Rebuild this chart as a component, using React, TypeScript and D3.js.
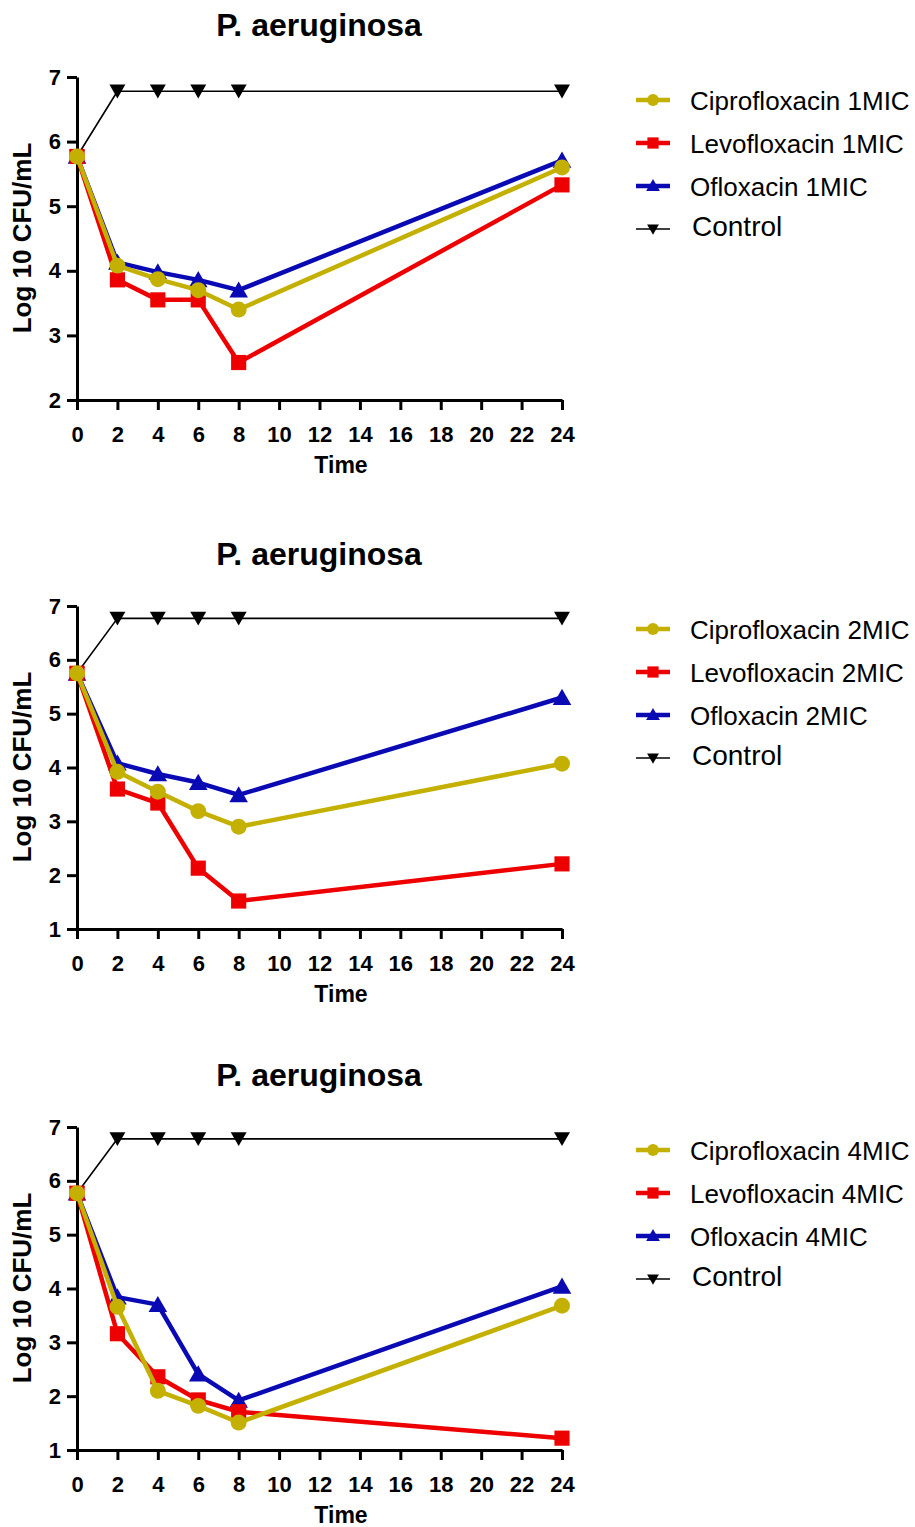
import React, { useEffect, useRef } from 'react';
import * as d3 from 'd3';

// sampling times (h)
const times = [0, 2, 4, 6, 8, 24];
const xTickValues = [0, 2, 4, 6, 8, 10, 12, 14, 16, 18, 20, 22, 24];

// panel 1 : 1MIC
const yTicks1 = [2, 3, 4, 5, 6, 7];
const cipro1 = [5.77, 4.08, 3.87, 3.7, 3.4, 5.6];
const levo1 = [5.77, 3.86, 3.55, 3.55, 2.58, 5.33];
const oflo1 = [5.77, 4.13, 3.98, 3.86, 3.7, 5.71];
const control1 = [5.77, 6.78, 6.78, 6.78, 6.78, 6.78];

// panel 2 : 2MIC
const yTicks2 = [1, 2, 3, 4, 5, 6, 7];
const cipro2 = [5.75, 3.92, 3.55, 3.19, 2.9, 4.07];
const levo2 = [5.75, 3.6, 3.34, 2.13, 1.52, 2.21];
const oflo2 = [5.75, 4.08, 3.88, 3.72, 3.49, 5.3];
const control2 = [5.75, 6.77, 6.77, 6.77, 6.77, 6.77];

// panel 3 : 4MIC
const yTicks4 = [1, 2, 3, 4, 5, 6, 7];
const cipro4 = [5.77, 3.66, 2.1, 1.82, 1.51, 3.68];
const levo4 = [5.77, 3.16, 2.36, 1.93, 1.71, 1.22];
const oflo4 = [5.77, 3.84, 3.7, 2.41, 1.92, 4.04];
const control4 = [5.77, 6.78, 6.78, 6.78, 6.78, 6.78];

const YELLOW = '#c4b000';
const RED = '#ee0000';
const BLUE = '#0a0ab4';
const FONT = 'Liberation Sans, Arial, sans-serif';

const panels = [
  { top: 77, ticks: yTicks1, dose: '1MIC', cipro: cipro1, levo: levo1, oflo: oflo1, control: control1 },
  { top: 606, ticks: yTicks2, dose: '2MIC', cipro: cipro2, levo: levo2, oflo: oflo2, control: control2 },
  { top: 1127, ticks: yTicks4, dose: '4MIC', cipro: cipro4, levo: levo4, oflo: oflo4, control: control4 },
];

const App = () => {
  const ref = useRef(null);

  useEffect(() => {
    const svg = d3.select(ref.current);
    svg.selectAll('*').remove();

    const plotH = 323;
    const x = d3.scaleLinear().domain([0, 24]).range([77, 562]);

    panels.forEach(p => {
      const yMin = p.ticks[0];
      const yMax = p.ticks[p.ticks.length - 1];
      const y = d3.scaleLinear().domain([yMin, yMax]).range([p.top + plotH, p.top]);
      const g = svg.append('g');

      // title
      g.append('text')
        .attr('x', 319).attr('y', p.top - 52)
        .attr('text-anchor', 'middle').attr('dominant-baseline', 'central')
        .attr('font-family', FONT)
        .attr('font-weight', 'bold').attr('font-size', 32)
        .text('P. aeruginosa');

      // axes
      const xAxis = g.append('g')
        .attr('transform', `translate(0,${p.top + plotH})`)
        .call(d3.axisBottom(x).tickValues(xTickValues).tickFormat(d3.format('d')).tickSize(10).tickPadding(16).tickSizeOuter(0));
      const yAxis = g.append('g')
        .attr('transform', `translate(77,0)`)
        .call(d3.axisLeft(y).tickValues(p.ticks).tickFormat(d3.format('d')).tickSize(10).tickPadding(6).tickSizeOuter(0));
      [xAxis, yAxis].forEach(a => {
        a.attr('font-size', 22).attr('font-family', FONT).attr('font-weight', 'bold');
        a.select('.domain').attr('stroke', '#000').attr('stroke-width', 3);
        a.selectAll('.tick line').attr('stroke', '#000').attr('stroke-width', 3);
        a.selectAll('.tick text').attr('fill', '#000');
      });

      // "Time" sits close to the bottom edge on the last panel
      g.append('text')
        .attr('x', 341).attr('y', p.top + plotH + 65)
        .attr('text-anchor', 'middle').attr('dominant-baseline', 'central')
        .attr('font-family', FONT)
        .attr('font-weight', 'bold').attr('font-size', 23)
        .text('Time');

      g.append('text')
        .attr('transform', `translate(22,${p.top + 161}) rotate(-90)`)
        .attr('text-anchor', 'middle').attr('dominant-baseline', 'central')
        .attr('font-family', FONT)
        .attr('font-weight', 'bold').attr('font-size', 26)
        .text('Log 10 CFU/mL');

      const line = d3.line<number>().x((d, i) => x(times[i])).y(d => y(d));

      const series = [
        { vals: p.control, color: '#000', width: 1.6, sym: d3.symbolTriangle, size: 110, rot: 180, label: 'Control' },
        { vals: p.oflo, color: BLUE, width: 4.5, sym: d3.symbolTriangle, size: 150, rot: 0, label: `Ofloxacin ${p.dose}` },
        { vals: p.levo, color: RED, width: 4.5, sym: d3.symbolSquare, size: 230, rot: 0, label: `Levofloxacin ${p.dose}` },
        { vals: p.cipro, color: YELLOW, width: 4.5, sym: d3.symbolCircle, size: 200, rot: 0, label: `Ciprofloxacin ${p.dose}` },
      ];

      series.forEach(s => {
        g.append('path')
          .attr('d', line(s.vals))
          .attr('fill', 'none').attr('stroke', s.color).attr('stroke-width', s.width)
          .attr('stroke-linejoin', 'round');
        g.selectAll(null)
          .data(s.vals)
          .enter().append('path')
          .attr('d', d3.symbol().type(s.sym).size(s.size))
          .attr('transform', (d, i) => `translate(${x(times[i])},${y(d) + (s.rot ? -2 : s.sym === d3.symbolTriangle ? 2 : 0)}) rotate(${s.rot})`)
          .attr('fill', s.color);
      });

      // legend
      const legendOrder = [series[3], series[2], series[1], series[0]];
      legendOrder.forEach((s, i) => {
        const ly = p.top + 23 + i * 43;
        const lg = g.append('g').attr('transform', `translate(0,${ly})`);
        lg.append('line')
          .attr('x1', 636).attr('x2', 670).attr('y1', 0).attr('y2', 0)
          .attr('stroke', s.color).attr('stroke-width', s.width);
        lg.append('path')
          .attr('d', d3.symbol().type(s.sym).size(s.size * 0.55))
          .attr('transform', `translate(653,${s.rot ? -1 : s.sym === d3.symbolTriangle ? 1 : 0}) rotate(${s.rot})`)
          .attr('fill', s.color);
        lg.append('text')
          .attr('x', s.label === 'Control' ? 692 : 690).attr('y', s.label === 'Control' ? -3 : 1)
          .attr('dominant-baseline', 'central')
          .attr('font-family', FONT)
          .attr('font-size', s.label === 'Control' ? 28 : 26)
          .attr('fill', '#000')
          .text(s.label);
      });
    });
  }, []);

  return (
    <svg ref={ref} width="915" height="1527" style={{ position: 'absolute', left: 0, top: 0, background: '#fff' }}></svg>
  );
};

export default App;
